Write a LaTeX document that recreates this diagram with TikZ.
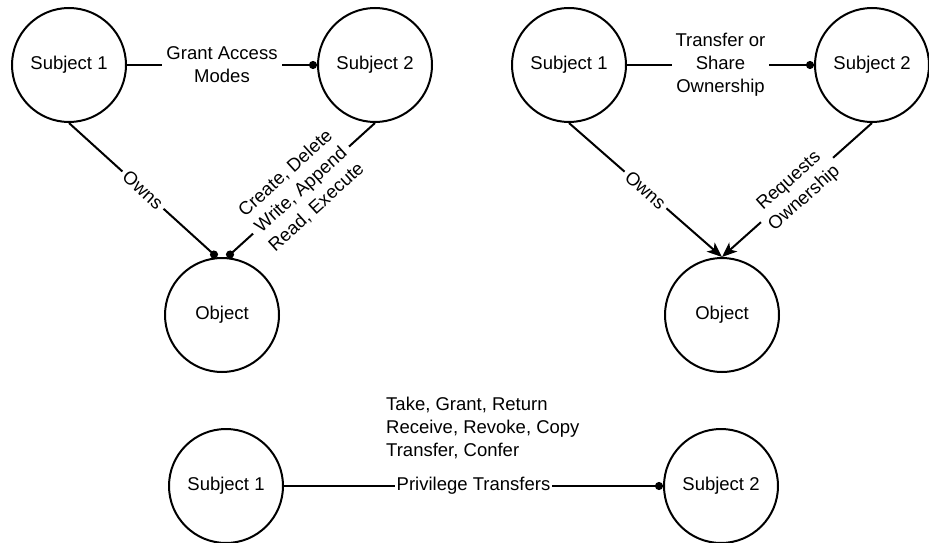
\documentclass[tikz,border=0pt]{standalone}
\usepackage{fontspec}
\setmainfont{Liberation Sans}
\usetikzlibrary{arrows.meta}

\begin{document}
\begin{tikzpicture}[x=1pt,y=-1pt,
    font=\fontsize{18.5}{23}\selectfont,
    ent/.style={circle,draw,line width=2pt,minimum size=114pt,inner sep=0pt},
    con/.style={line width=2pt},
    lab/.style={fill=white,inner sep=4pt,align=center},
    dot/.style={-{Circle[length=8pt]}},
    arr/.style={-{Stealth[length=15pt,width=12pt,inset=4pt]}}]
    \useasboundingbox (0,0) rectangle (929,543);
    % access modes
    \node[ent] (ls1) at (69,65) {Subject 1};
    \node[ent] (ls2) at (375,65) {Subject 2};
    \node[ent] (lobj) at (222,315) {Object};
    \draw[con,dot] (ls1) -- node[lab]{Grant Access\\Modes} (ls2);
    \draw[con,dot] (ls1.south) -- node[lab,sloped]{Owns} (lobj.95);
    \draw[con,dot] (ls2.south) -- node[lab,sloped]{Create, Delete\\Write, Append\\Read, Execute} (lobj.85);
    % ownership
    \node[ent] (rs1) at (569,65) {Subject 1};
    \node[ent] (rs2) at (872,65) {Subject 2};
    \node[ent] (robj) at (722,315) {Object};
    \draw[con,dot] (rs1) -- node[lab]{Transfer or\\Share\\Ownership} (rs2);
    \draw[con,arr] (rs1.south) -- node[lab,sloped]{Owns} (robj.north);
    \draw[con,arr] (rs2.south) -- node[lab,sloped]{Requests\\Ownership} (robj.north);
    % privileges
    \node[ent] (bs1) at (226,486) {Subject 1};
    \node[ent] (bs2) at (721,486) {Subject 2};
    \draw[con,dot] (bs1) -- node[lab,inner sep=2pt]{Privilege Transfers} (bs2);
    \node[anchor=north west,align=left,inner sep=0pt] (ops) at (386,397)
        {Take, Grant, Return\\Receive, Revoke, Copy\\Transfer, Confer};
\end{tikzpicture}
\end{document}
